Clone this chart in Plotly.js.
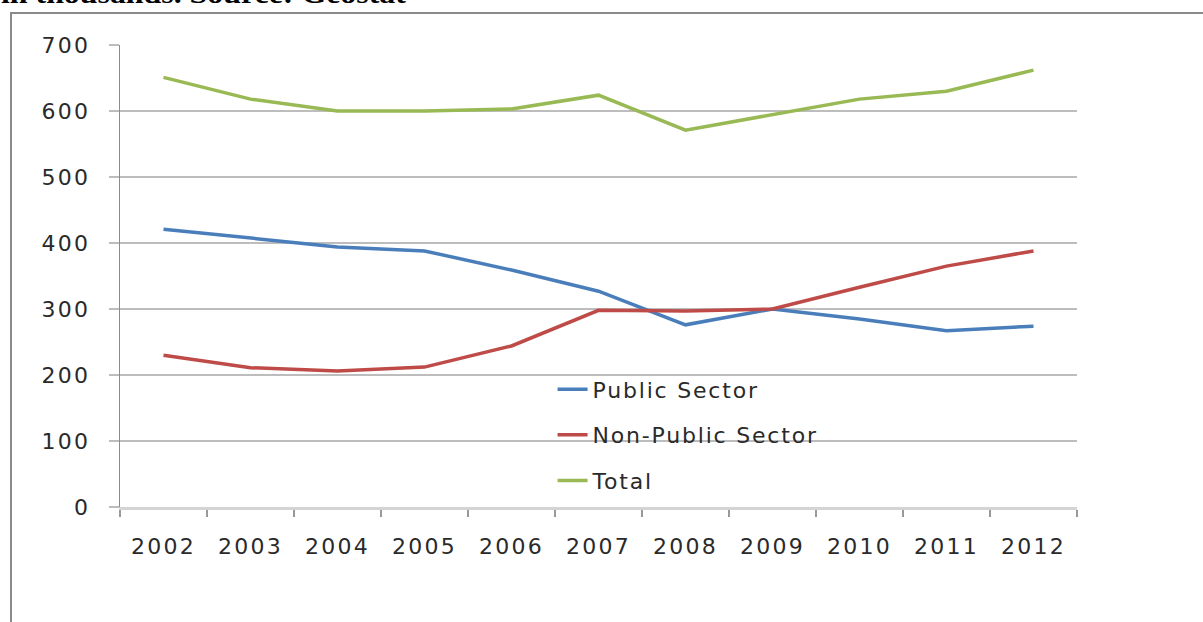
<!DOCTYPE html>
<html>
<head>
<meta charset="utf-8">
<script src="https://cdn.plot.ly/plotly-3.0.1.min.js"></script>
<style>
html,body{margin:0;padding:0;background:#fff;overflow:hidden;}
#wrap{position:relative;width:1203px;height:622px;}
#hdr{position:absolute;left:1px;top:-19px;font-family:"Liberation Serif",serif;font-weight:bold;font-size:27px;line-height:27px;white-space:nowrap;color:#000;transform-origin:left top;transform:scaleX(1.18);}
#box{position:absolute;left:10px;top:12px;width:1193px;height:610px;border-left:2px solid #8a8a8a;border-top:2px solid #8a8a8a;box-sizing:border-box;}
#chart{position:absolute;left:0;top:0;width:1203px;height:622px;}
.xtick text,.ytick text{letter-spacing:2.2px;}
.legendtext{letter-spacing:1.8px;}
</style>
</head>
<body>
<div id="wrap">
<div id="box"></div>
<div id="chart"></div>
<div id="hdr">in thousands. Source: Geostat</div>
</div>
<script>
const years = ["2002","2003","2004","2005","2006","2007","2008","2009","2010","2011","2012"];
const publicSector = [421,408,394,388,359,327,276,300,285,267,274];
const nonPublicSector = [230,211,206,212,244,298,297,300,333,365,388];
const total = [651,618,600,600,603,624,571,594,618,630,662];
const seriesNames = ["Public Sector","Non-Public Sector","Total"];
const yTicks = [0,100,200,300,400,500,600,700];

const colors = ["#4a7ebb","#be4b48","#98b954"];
const data = [publicSector, nonPublicSector, total].map((vals,i)=>({
  x: years, y: vals, type:"scatter", mode:"lines", name: seriesNames[i],
  legendgroup: "g"+i,
  line:{color:colors[i], width:3.5}
}));

const font = {family:"DejaVu Sans, sans-serif", size:22, color:"#2a2a2a"};
const layout = {
  width:1203, height:622,
  paper_bgcolor:"rgba(0,0,0,0)", plot_bgcolor:"rgba(0,0,0,0)",
  margin:{l:120, r:126, t:45, b:115},
  font: font,
  showlegend:true,
  legend:{x:0.452, xanchor:"left", y:0.30, yanchor:"top", bgcolor:"rgba(0,0,0,0)",
          font:{family:"DejaVu Sans, sans-serif", size:22, color:"#2a2a2a"},
          traceorder:"grouped", tracegroupgap:14},
  xaxis:{type:"category", range:[-0.5, years.length-0.5], tickson:"boundaries", ticks:"outside", ticklen:7, tickcolor:"#999", tickwidth:1.5,
         showline:true, linecolor:"#d4d4d4", linewidth:3, showgrid:false, zeroline:false,
         ticklabelstandoff:18, tickfont:font, fixedrange:true},
  yaxis:{range:[0,700], tickvals:yTicks, ticks:"outside", ticklen:10, tickcolor:"#bdbdbd", tickwidth:1.5,
         showline:true, linecolor:"#8c8c8c", linewidth:1.5, showgrid:true, gridcolor:"#bdbdbd", gridwidth:1.5,
         zeroline:false, ticklabelstandoff:14, tickfont:font, fixedrange:true}
};
Plotly.newPlot("chart", data, layout, {staticPlot:true, displayModeBar:false});
</script>
</body>
</html>
